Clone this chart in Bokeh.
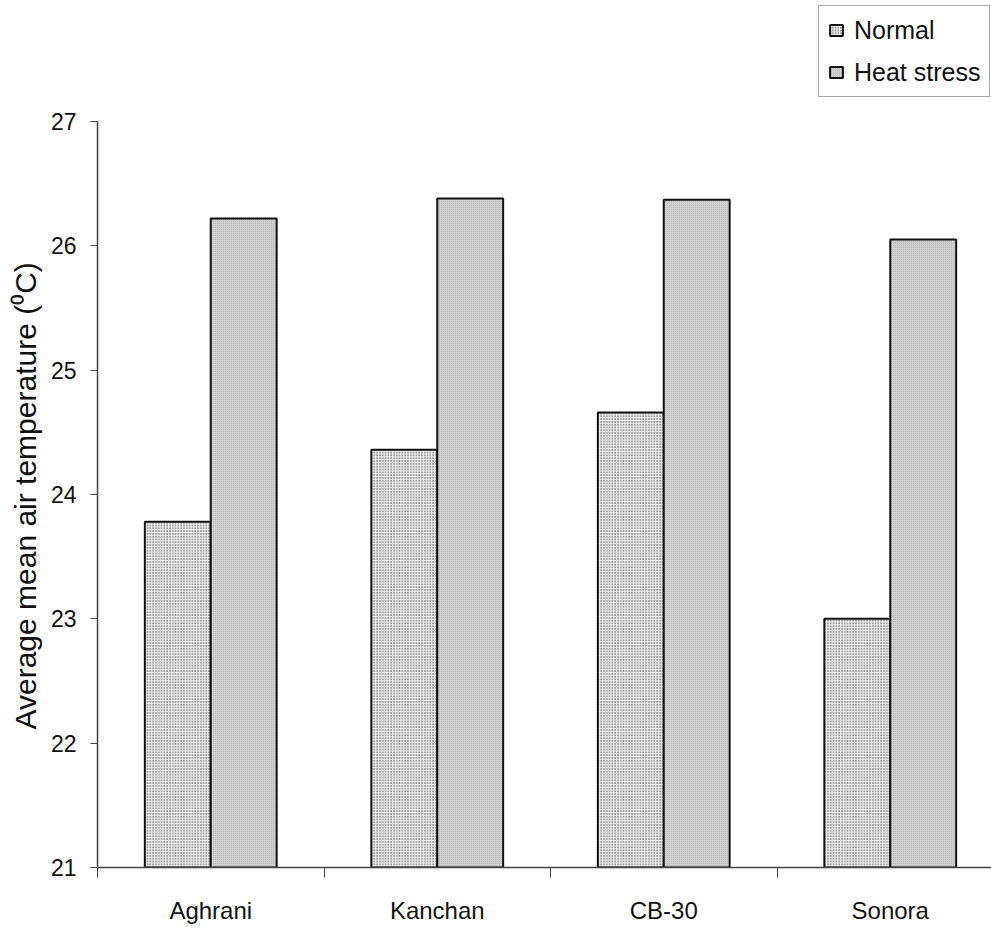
from bokeh.plotting import figure
from bokeh.models import ColumnDataSource, FixedTicker, Legend, LegendItem, Range1d, Title
from bokeh.transform import dodge
from bokeh.embed import file_html
from bokeh.resources import INLINE

# ---- data ----
cultivars = ["Aghrani", "Kanchan", "CB-30", "Sonora"]
normal = [23.78, 24.36, 24.66, 23.00]
heat_stress = [26.22, 26.38, 26.37, 26.05]
y_ticks = [21, 22, 23, 24, 25, 26, 27]
series_names = ["Normal", "Heat stress"]
y_title = "Average mean air temperature (\u2070C)"

FONT = "Liberation Sans"

src = ColumnDataSource(dict(
    pos=[i + 0.5 for i in range(len(cultivars))],
    normal=normal,
    heat=heat_stress,
))

X_END = 3.947
Y_END = 27.973
p = figure(width=991, height=930, output_backend="svg", toolbar_location=None,
           x_range=Range1d(0, X_END), y_range=Range1d(21, Y_END),
           min_border_left=97, min_border_right=0, min_border_top=0,
           min_border_bottom=63)
p.outline_line_color = None
p.xgrid.grid_line_color = None
p.ygrid.grid_line_color = None
p.background_fill_color = "white"
p.border_fill_color = "white"

bw = 0.291
r_norm = p.vbar(x=dodge("pos", -bw / 2, range=p.x_range), top="normal", bottom=21,
                width=bw, source=src, fill_color="#f2f2f2", hatch_pattern="dot",
                hatch_color="#262626", hatch_scale=2.8, hatch_weight=1.3,
                line_color="#111111", line_width=2)
r_heat = p.vbar(x=dodge("pos", bw / 2, range=p.x_range), top="heat", bottom=21,
                width=bw, source=src, fill_color="#d0d0d0", hatch_pattern="dot",
                hatch_color="#b4b4b4", hatch_scale=2.0, hatch_weight=0.8,
                line_color="#111111", line_width=2)

# y axis
ya = p.yaxis[0]
ya.bounds = (21, 27)
ya.ticker = FixedTicker(ticks=y_ticks)
ya.minor_tick_line_color = None
ya.major_tick_out = 7
ya.major_tick_in = 0
ya.axis_line_color = "#444444"
ya.axis_line_width = 1.5
ya.major_tick_line_color = "#444444"
ya.major_label_text_font = FONT
ya.major_label_text_font_size = "23px"
ya.major_label_text_color = "#111111"
ya.major_label_standoff = 14

ytitle = Title(text=y_title, align="left", offset=138, standoff=11,
               text_font=FONT, text_font_size="30px", text_font_style="normal",
               text_color="#111111")
p.add_layout(ytitle, "left")

# x axis: labels at category centres, ticks at boundaries (minor ticks)
xa = p.xaxis[0]
centers = [i + 0.5 for i in range(len(cultivars))]
xa.ticker = FixedTicker(ticks=centers, minor_ticks=[float(i) for i in range(len(cultivars))])
xa.major_label_overrides = {c: name for c, name in zip(centers, cultivars)}
xa.major_tick_out = 0
xa.major_tick_in = 0
xa.minor_tick_out = 10
xa.minor_tick_in = 0
xa.minor_tick_line_color = "#444444"
xa.axis_line_color = "#444444"
xa.axis_line_width = 1.5
xa.major_label_text_font = FONT
xa.major_label_text_font_size = "24px"
xa.major_label_text_color = "#111111"
xa.major_label_standoff = 19

legend = Legend(items=[LegendItem(label=series_names[0], renderers=[r_norm]),
                       LegendItem(label=series_names[1], renderers=[r_heat])],
                location=(721, 770))
legend.label_text_font = FONT
legend.label_text_font_size = "25px"
legend.label_text_color = "#111111"
legend.glyph_width = 16
legend.glyph_height = 14
legend.label_height = 30
legend.label_standoff = 10
legend.spacing = 12
legend.padding = 9
legend.margin = 0
legend.border_line_color = "#555555"
legend.border_line_width = 1
legend.background_fill_color = "white"
legend.background_fill_alpha = 1.0
p.add_layout(legend, "center")

open("out.html", "w").write(file_html(p, INLINE))
